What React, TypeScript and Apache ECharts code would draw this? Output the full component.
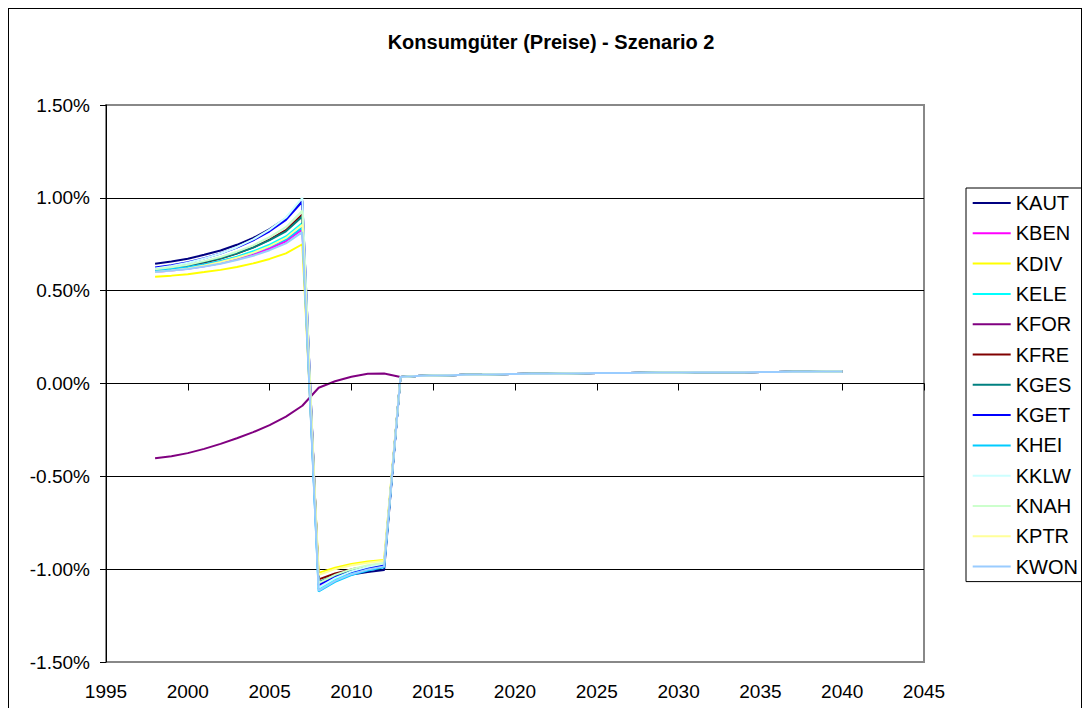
import React, { useEffect, useRef } from "react";
import * as echarts from "echarts";

const titleText = "Konsumgüter (Preise) - Szenario 2";

const years = [
  1998, 1999, 2000, 2001, 2002, 2003, 2004, 2005, 2006, 2007,
  2008, 2009, 2010, 2011, 2012, 2013, 2014, 2015, 2016, 2017,
  2018, 2019, 2020, 2021, 2022, 2023, 2024, 2025, 2026, 2027,
  2028, 2029, 2030, 2031, 2032, 2033, 2034, 2035, 2036, 2037,
  2038, 2039, 2040,
];

const seriesNames = [
  "KAUT", "KBEN", "KDIV", "KELE", "KFOR", "KFRE", "KGES",
  "KGET", "KHEI", "KKLW", "KNAH", "KPTR", "KWON",
];

const seriesColors = [
  "#000080", "#FF00FF", "#FFFF00", "#00FFFF", "#800080", "#800000", "#008080",
  "#0000FF", "#00CCFF", "#CCFFFF", "#CCFFCC", "#FFFF99", "#99CCFF",
];

// values in percent, 1998..2012
const kautHead = [0.645, 0.657, 0.672, 0.693, 0.716, 0.747, 0.784, 0.832, 0.89, 0.985, -1.08, -1.05, -1.029, -1.015, -1.005];
const kbenHead = [0.6, 0.608, 0.618, 0.632, 0.648, 0.669, 0.694, 0.727, 0.766, 0.83, -1.09, -1.048, -1.019, -0.999, -0.985];
const kdivHead = [0.575, 0.581, 0.589, 0.6, 0.612, 0.628, 0.647, 0.671, 0.701, 0.75, -1.02, -0.992, -0.972, -0.959, -0.95];
const keleHead = [0.605, 0.614, 0.626, 0.641, 0.66, 0.683, 0.712, 0.748, 0.792, 0.865, -1.105, -1.057, -1.023, -1.001, -0.985];
const kforHead = [-0.403, -0.392, -0.375, -0.352, -0.325, -0.295, -0.262, -0.224, -0.178, -0.12, -0.023, 0.012, 0.036, 0.052, 0.054];
const kfreHead = [0.61, 0.621, 0.634, 0.652, 0.673, 0.7, 0.733, 0.775, 0.826, 0.91, -1.055, -1.023, -1.001, -0.985, -0.975];
const kgesHead = [0.615, 0.625, 0.638, 0.655, 0.675, 0.701, 0.732, 0.772, 0.82, 0.9, -1.07, -1.034, -1.009, -0.992, -0.98];
const kgetHead = [0.625, 0.637, 0.653, 0.675, 0.7, 0.732, 0.771, 0.82, 0.881, 0.98, -1.085, -1.043, -1.014, -0.994, -0.98];
const kheiHead = [0.61, 0.618, 0.628, 0.642, 0.658, 0.679, 0.704, 0.737, 0.776, 0.84, -1.12, -1.068, -1.032, -1.007, -0.99];
const kklwHead = [0.62, 0.633, 0.65, 0.673, 0.7, 0.734, 0.776, 0.829, 0.894, 1.0, -1.1, -1.048, -1.012, -0.987, -0.97];
const knahHead = [0.615, 0.626, 0.64, 0.659, 0.681, 0.71, 0.744, 0.788, 0.842, 0.93, -1.075, -1.031, -1.0, -0.979, -0.965];
const kptrHead = [0.6, 0.609, 0.62, 0.636, 0.654, 0.677, 0.705, 0.74, 0.784, 0.855, -1.03, -1.0, -0.979, -0.965, -0.955];
const kwonHead = [0.6, 0.608, 0.617, 0.63, 0.645, 0.665, 0.688, 0.718, 0.755, 0.815, -1.115, -1.063, -1.027, -1.002, -0.985];

// common values 2013..2040 (all series practically coincide)
const tailValues = [
  0.035, 0.04, 0.043, 0.045, 0.047, 0.048, 0.05, 0.051, 0.052, 0.053,
  0.054, 0.055, 0.056, 0.057, 0.057, 0.058, 0.059, 0.059, 0.06, 0.06,
  0.061, 0.061, 0.062, 0.062, 0.063, 0.063, 0.064, 0.065,
];

const heads = [
  kautHead, kbenHead, kdivHead, keleHead, kforHead, kfreHead, kgesHead,
  kgetHead, kheiHead, kklwHead, knahHead, kptrHead, kwonHead,
];

const xTicks = { min: 1995, max: 2045, step: 5 };
const yTicks = { min: -1.5, max: 1.5, step: 0.5 };

export default function App() {
  const ref = useRef<HTMLDivElement>(null);
  useEffect(() => {
    if (!ref.current) return;
    const chart = echarts.init(ref.current, null, { renderer: "svg" });
    const font = "'Liberation Sans', Arial, sans-serif";
    const series = seriesNames.map((name, i) => {
      const vals = heads[i].concat(tailValues);
      return {
        name,
        type: "line",
        xAxisIndex: 0,
        yAxisIndex: 0,
        data: years.map((y, j) => [y, vals[j]]),
        showSymbol: false,
        symbol: "none",
        smooth: false,
        silent: true,
        lineStyle: { color: seriesColors[i], width: 2 },
        itemStyle: { color: seriesColors[i] },
      };
    });
    chart.setOption({
      animation: false,
      backgroundColor: "#ffffff",
      textStyle: { fontFamily: font },
      graphic: [
        {
          type: "text",
          x: 542,
          y: 33,
          style: {
            text: titleText,
            font: `bold 20px ${font}`,
            fill: "#000",
            textAlign: "center",
            textVerticalAlign: "middle",
          },
        },
      ],
      grid: {
        left: 97,
        top: 96,
        width: 818,
        height: 557,
        show: true,
        borderColor: "#888888",
        borderWidth: 2,
        backgroundColor: "transparent",
      },
      xAxis: [
        {
          type: "value",
          min: xTicks.min,
          max: xTicks.max,
          interval: xTicks.step,
          position: "bottom",
          axisLine: { show: true, onZero: true, lineStyle: { color: "#000", width: 1 } },
          axisTick: { show: true, length: 7, lineStyle: { color: "#000" } },
          axisLabel: { show: false },
          splitLine: { show: false },
          z: 5,
        },
        {
          type: "value",
          min: xTicks.min,
          max: xTicks.max,
          interval: xTicks.step,
          position: "bottom",
          axisLine: { show: false, onZero: false },
          axisTick: { show: false },
          axisLabel: {
            show: true,
            margin: 20,
            fontSize: 19,
            color: "#000",
            fontFamily: font,
            showMinLabel: true,
            showMaxLabel: true,
            formatter: (v: number) => String(v),
          },
          splitLine: { show: false },
        },
      ],
      yAxis: {
        type: "value",
        min: yTicks.min,
        max: yTicks.max,
        interval: yTicks.step,
        axisLine: { show: true, lineStyle: { color: "#000", width: 1 } },
        axisTick: { show: true, length: 6, lineStyle: { color: "#000" } },
        axisLabel: {
          margin: 16,
          fontSize: 19,
          color: "#000",
          fontFamily: font,
          formatter: (v: number) => v.toFixed(2) + "%",
        },
        splitLine: {
          show: true,
          lineStyle: {
            color: ["#888888", "#000", "#000", "#000", "#000", "#000", "#888888"],
            width: 1,
          },
        },
      },
      legend: {
        orient: "vertical",
        left: 957,
        top: 179,
        data: seriesNames,
        icon: "rect",
        itemWidth: 38,
        itemHeight: 2,
        itemGap: 10.3,
        padding: [5, 6, 5, 6.7],
        borderColor: "#000",
        borderWidth: 1,
        backgroundColor: "#fff",
        selectedMode: false,
        textStyle: { fontSize: 20, color: "#000", lineHeight: 20, fontFamily: font },
      },
      series,
    });
    return () => chart.dispose();
  }, []);
  return (
    <div style={{ border: "1px solid #000", borderBottom: "none", width: 1072, height: 699 }}>
      <div ref={ref} style={{ width: 1072, height: 699 }} />
    </div>
  );
}
